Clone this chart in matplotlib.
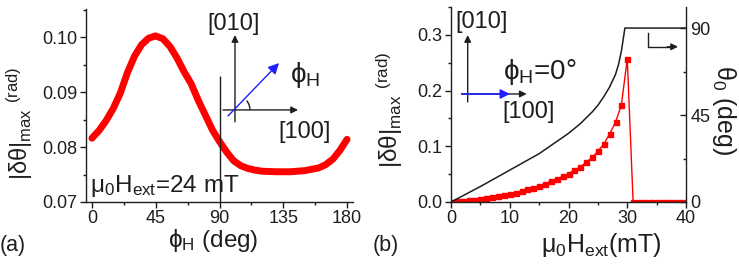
import numpy as np
import matplotlib
matplotlib.use('Agg')
import matplotlib.pyplot as plt
from matplotlib.patches import Arc
from matplotlib.ticker import MultipleLocator

plt.rcParams['font.family'] = ['Liberation Sans', 'DejaVu Sans']
plt.rcParams['mathtext.fontset'] = 'custom'
plt.rcParams['mathtext.rm'] = 'Liberation Sans'
plt.rcParams['mathtext.default'] = 'regular'
plt.rcParams['mathtext.fallback'] = 'stixsans'

ink = '#1e1e1e'

# (a) |dtheta|max vs phi_H, mu0 Hext = 24 mT
phi_h = [0, 5, 10, 15, 20, 25, 30, 35, 40, 45, 50, 55, 60, 65, 70, 75, 80, 85, 90,
         95, 100, 105, 110, 115, 120, 130, 140, 150, 160, 165, 170, 175, 180]
dth_a = [0.0816, 0.0830, 0.0848, 0.0870, 0.0898, 0.0935, 0.0965, 0.0986, 0.0998,
         0.1002, 0.0997, 0.0983, 0.0962, 0.0937, 0.0915, 0.0885, 0.0858, 0.0831,
         0.0810, 0.0791, 0.0775, 0.0766, 0.0761, 0.0758, 0.0756, 0.0755, 0.0755,
         0.0757, 0.0762, 0.0768, 0.0778, 0.0794, 0.0814]
mark_phi = 90
mark_top = 0.093

# (b) |dtheta|max and theta0 vs mu0 Hext, phi_H = 0
h_ext = list(range(0, 41))
dth_b = [0, 0.001, 0.002, 0.003, 0.004, 0.006, 0.007, 0.009, 0.011, 0.013,
         0.015, 0.017, 0.020, 0.023, 0.026, 0.029, 0.033, 0.037, 0.041, 0.046,
         0.051, 0.057, 0.063, 0.071, 0.080, 0.091, 0.104, 0.122, 0.143, 0.174,
         0.257, 0, 0, 0, 0, 0, 0, 0, 0, 0, 0]
h_theta = [0, 5, 10, 15, 20, 22, 24, 25, 26, 27, 28, 28.5, 29, 29.3, 29.6, 40]
theta0 = [0, 8, 16.5, 25, 35.5, 40.5, 46.5, 50, 54.5, 59.5, 66, 71, 78, 84, 90, 90]

fig = plt.figure(figsize=(7.39, 2.76), dpi=100)
axa = fig.add_axes([86/739, 74/276, 267/739, 193/276])
axb = fig.add_axes([451/739, 74/276, 235/739, 195/276])
axr = axb.twinx()


def style(ax, hide):
    for s in hide:
        ax.spines[s].set_visible(False)
    for s in ax.spines.values():
        s.set_color(ink)
        s.set_linewidth(1.0)
    ax.tick_params(which='major', length=4, width=1, labelsize=13, colors=ink, pad=2)
    ax.tick_params(which='minor', length=2.5, width=1, colors=ink)


# ---- panel (a)
axa.plot(phi_h, dth_a, color='#ff0000', lw=5, solid_capstyle='round')
axa.vlines(mark_phi, 0.07, mark_top, color=ink, lw=1)
axa.set_xlim(-4.2, 184.2)
axa.set_ylim(0.07, 0.1051)
axa.xaxis.set_major_locator(MultipleLocator(45))
axa.xaxis.set_minor_locator(MultipleLocator(22.5))
axa.yaxis.set_major_locator(MultipleLocator(0.01))
axa.yaxis.set_minor_locator(MultipleLocator(0.005))
axa.yaxis.set_major_formatter(matplotlib.ticker.FormatStrFormatter('%.2f'))
style(axa, ['top', 'right'])
axa.tick_params(which='both', direction='out')

# inset axes sketch in (a)
aa = dict(arrowstyle='-|>', color=ink, lw=1, mutation_scale=10, shrinkA=0, shrinkB=0)
axa.annotate('', xy=(0.558, 0.865), xytext=(0.558, 0.415), xycoords='axes fraction', arrowprops=aa)
axa.annotate('', xy=(0.794, 0.477), xytext=(0.513, 0.477), xycoords='axes fraction', arrowprops=aa)
axa.annotate('', xy=(0.723, 0.720), xytext=(0.532, 0.446), xycoords='axes fraction',
             arrowprops=dict(arrowstyle='-|>', color='#1f1fff', lw=1, mutation_scale=16,
                             shrinkA=0, shrinkB=0))
axa.add_patch(Arc((0.558, 0.477), 0.112, 0.155, theta1=0, theta2=48, transform=axa.transAxes,
                  color=ink, lw=1))
axa.text(0.554, 0.922, '[010]', transform=axa.transAxes, ha='center', va='center', fontsize=17, color=ink)
axa.text(0.820, 0.363, '[100]', transform=axa.transAxes, ha='center', va='center', fontsize=17, color=ink)
axa.text(0.764, 0.622, 'ϕ$_H$', transform=axa.transAxes, ha='left', va='baseline', fontsize=20, color=ink)
axa.text(0.015, 0.052, r'$\mu_0$H$_{ext}$=24 mT', transform=axa.transAxes, ha='left',
         va='baseline', fontsize=17.5, color=ink)

# ---- panel (b)
axb.plot(h_ext, dth_b, color='#ff0000', lw=1, marker='s', ms=3.6, mec='#ff0000')
axr.plot(h_theta, theta0, color=ink, lw=1.1)
axb.set_xlim(0, 40)
axb.set_ylim(0, 0.350)
axr.set_ylim(0, 100.9)
axb.xaxis.set_major_locator(MultipleLocator(10))
axb.xaxis.set_minor_locator(MultipleLocator(5))
axb.yaxis.set_major_locator(MultipleLocator(0.1))
axb.yaxis.set_minor_locator(MultipleLocator(0.05))
axb.yaxis.set_major_formatter(matplotlib.ticker.FormatStrFormatter('%.1f'))
axr.yaxis.set_major_locator(MultipleLocator(45))
axr.yaxis.set_minor_locator(MultipleLocator(22.5))
style(axb, ['top', 'right'])
style(axr, ['top', 'left', 'bottom'])
axb.tick_params(which='both', direction='out')
axr.tick_params(which='both', direction='in')
axr.tick_params(pad=3)

axb.annotate('', xy=(0.071, 0.856), xytext=(0.071, 0.513), xycoords='axes fraction', arrowprops=aa)
axb.annotate('', xy=(0.322, 0.554), xytext=(0.0455, 0.554), xycoords='axes fraction', arrowprops=aa)
axb.annotate('', xy=(0.251, 0.554), xytext=(0.0455, 0.554), xycoords='axes fraction',
             arrowprops=dict(arrowstyle='-|>', color='#1f1fff', lw=1.2, mutation_scale=14,
                             shrinkA=0, shrinkB=0))
axb.text(0.131, 0.925, '[010]', transform=axb.transAxes, ha='center', va='center', fontsize=17, color=ink)
axb.text(0.329, 0.460, '[100]', transform=axb.transAxes, ha='center', va='center', fontsize=17, color=ink)
axb.text(0.221, 0.631, 'ϕ$_H$=0°', transform=axb.transAxes, ha='left', va='baseline', fontsize=20, color=ink)
# pointer to right axis
axr.plot([0.838, 0.838, 0.93], [0.867, 0.796, 0.796], transform=axr.transAxes, color=ink, lw=1)
axr.annotate('', xy=(0.966, 0.796), xytext=(0.92, 0.796), xycoords='axes fraction',
             arrowprops=dict(arrowstyle='-|>', color=ink, lw=1, mutation_scale=10, shrinkA=0, shrinkB=0))

# labels
fig.text(213/739, 1 - 240/276, 'ϕ$_H$ (deg)', ha='center', va='center', fontsize=17.5, color=ink)
fig.text(601/739, 1 - 245/276, r'$\mu_0$H$_{ext}$(mT)', ha='center', va='center', fontsize=18, color=ink)
fig.text(20/739, 1 - 123/276, r'|δθ|$_{max}$ $^{(rad)}$', ha='center', va='center', rotation=90,
         fontsize=17, color=ink)
fig.text(390/739, 1 - 110/276, r'|δθ|$_{max}$ $^{(rad)}$', ha='center', va='center', rotation=90,
         fontsize=17.5, color=ink)
fig.text(724/739, 1 - 110/276, r'θ$_0$ (deg)', ha='center', va='center', rotation=270,
         fontsize=18, color=ink)
fig.text(0/739, 1 - 245/276, '(a)', ha='left', va='center', fontsize=15.5, color=ink)
fig.text(373/739, 1 - 245/276, '(b)', ha='left', va='center', fontsize=15.5, color=ink)

fig.savefig('out.png', dpi=100)
